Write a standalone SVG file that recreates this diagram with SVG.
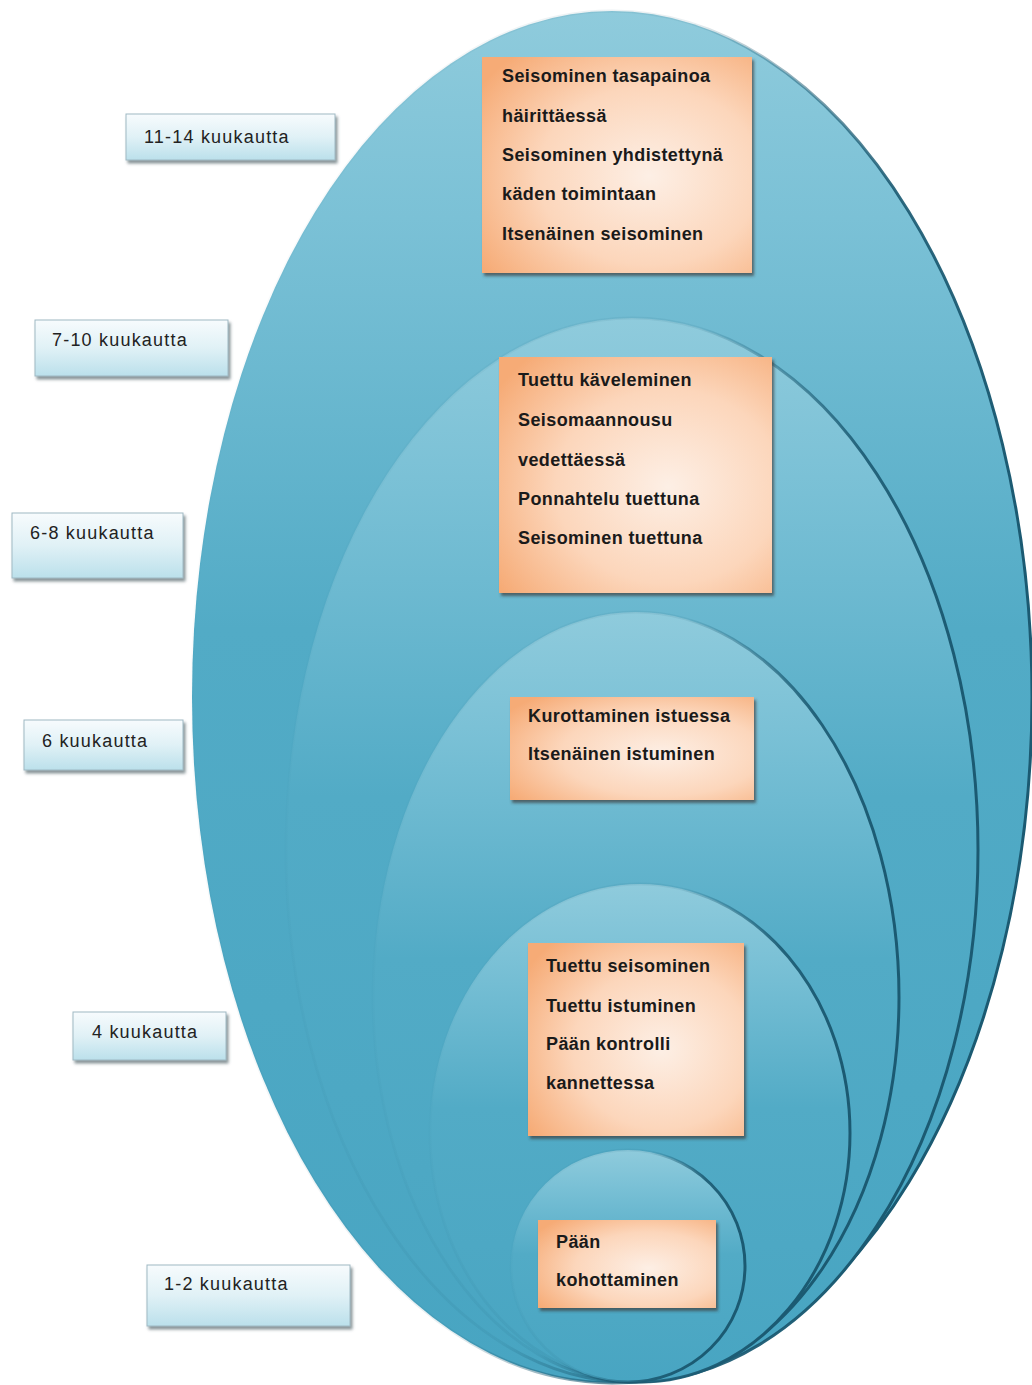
<svg xmlns="http://www.w3.org/2000/svg" width="1032" height="1385" viewBox="0 0 1032 1385">
<defs>
<linearGradient id="gFill" x1="0" y1="0" x2="0" y2="1">
<stop offset="0" stop-color="#8fcbdc"/>
<stop offset="0.15" stop-color="#7bc1d6"/>
<stop offset="0.45" stop-color="#52abc6"/>
<stop offset="1" stop-color="#48a5c2"/>
</linearGradient>
<linearGradient id="gStroke" x1="0" y1="0" x2="1" y2="0.3">
<stop offset="0" stop-color="#1b5a72" stop-opacity="0"/>
<stop offset="0.55" stop-color="#1b5a72" stop-opacity="0.1"/>
<stop offset="0.8" stop-color="#1b5a72" stop-opacity="0.9"/>
<stop offset="1" stop-color="#1b5a72" stop-opacity="1"/>
</linearGradient>
<radialGradient id="gOrange" cx="0.62" cy="0.55" r="0.75">
<stop offset="0" stop-color="#fdefe5"/>
<stop offset="0.55" stop-color="#fcd6bb"/>
<stop offset="1" stop-color="#f6ab76"/>
</radialGradient>
<linearGradient id="gLabel" x1="0" y1="0" x2="0" y2="1">
<stop offset="0" stop-color="#f7fbfd"/>
<stop offset="0.5" stop-color="#e0f1f6"/>
<stop offset="1" stop-color="#bbe0eb"/>
</linearGradient>
<filter id="shadow" x="-10%" y="-10%" width="125%" height="130%">
<feDropShadow dx="2" dy="3" stdDeviation="1.5" flood-color="#3a3a3a" flood-opacity="0.7"/>
</filter>
<filter id="shadowL" x="-10%" y="-10%" width="125%" height="140%">
<feDropShadow dx="2" dy="3" stdDeviation="1.5" flood-color="#5f7076" flood-opacity="0.75"/>
</filter>
</defs>
<style>
.ell{fill:url(#gFill);stroke:url(#gStroke);stroke-width:3}
.ob{fill:url(#gOrange);filter:url(#shadow)}
.ot{font-family:"Liberation Sans",Arial,sans-serif;font-weight:bold;font-size:18px;letter-spacing:0.4px;fill:#1a1a1a}
.lb{fill:url(#gLabel);stroke:#9fb9c3;stroke-width:1;filter:url(#shadowL)}
.lt{font-family:"Liberation Sans",Arial,sans-serif;font-size:18px;letter-spacing:1.2px;fill:#222}
</style>
<rect width="1032" height="1385" fill="#ffffff"/>
<g id="ellipses">
<g id="e1114"><ellipse class="ell" cx="612" cy="697" rx="420" ry="686"/></g>
<g id="e710"><ellipse class="ell" cx="632" cy="850" rx="346" ry="532"/></g>
<g id="e68"><ellipse class="ell" cx="636" cy="997" rx="263" ry="385"/></g>
<g id="e6"><ellipse class="ell" cx="640" cy="1133" rx="210" ry="249"/></g>
<g id="e12"><ellipse class="ell" cx="628" cy="1266" rx="117" ry="116"/></g>
</g>
<g id="box1114">
<rect class="ob" x="482" y="57" width="270" height="216"/>
<text class="ot" x="502" y="82">Seisominen tasapainoa</text>
<text class="ot" x="502" y="122">häirittäessä</text>
<text class="ot" x="502" y="161">Seisominen yhdistettynä</text>
<text class="ot" x="502" y="200">käden toimintaan</text>
<text class="ot" x="502" y="240">Itsenäinen seisominen</text>
</g>
<g id="box710">
<rect class="ob" x="499" y="357" width="273" height="236"/>
<text class="ot" x="518" y="386">Tuettu käveleminen</text>
<text class="ot" x="518" y="426">Seisomaannousu</text>
<text class="ot" x="518" y="466">vedettäessä</text>
<text class="ot" x="518" y="505">Ponnahtelu tuettuna</text>
<text class="ot" x="518" y="544">Seisominen tuettuna</text>
</g>
<g id="box6">
<rect class="ob" x="510" y="697" width="244" height="103"/>
<text class="ot" x="528" y="722">Kurottaminen istuessa</text>
<text class="ot" x="528" y="760">Itsenäinen istuminen</text>
</g>
<g id="box4">
<rect class="ob" x="528" y="943" width="216" height="193"/>
<text class="ot" x="546" y="972">Tuettu seisominen</text>
<text class="ot" x="546" y="1012">Tuettu istuminen</text>
<text class="ot" x="546" y="1050">Pään kontrolli</text>
<text class="ot" x="546" y="1089">kannettessa</text>
</g>
<g id="box12">
<rect class="ob" x="538" y="1220" width="178" height="88"/>
<text class="ot" x="556" y="1248">Pään</text>
<text class="ot" x="556" y="1286">kohottaminen</text>
</g>
<g id="label1114">
<rect class="lb" x="126" y="114" width="209" height="46"/>
<text class="lt" x="144" y="143">11-14 kuukautta</text>
</g>
<g id="label710">
<rect class="lb" x="35" y="320" width="193" height="56"/>
<text class="lt" x="52" y="346">7-10 kuukautta</text>
</g>
<g id="label68">
<rect class="lb" x="12" y="513" width="171" height="65"/>
<text class="lt" x="30" y="539">6-8 kuukautta</text>
</g>
<g id="label6">
<rect class="lb" x="24" y="720" width="159" height="50"/>
<text class="lt" x="42" y="747">6 kuukautta</text>
</g>
<g id="label4">
<rect class="lb" x="73" y="1012" width="153" height="48"/>
<text class="lt" x="92" y="1038">4 kuukautta</text>
</g>
<g id="label12">
<rect class="lb" x="147" y="1265" width="203" height="61"/>
<text class="lt" x="164" y="1290">1-2 kuukautta</text>
</g>
</svg>
